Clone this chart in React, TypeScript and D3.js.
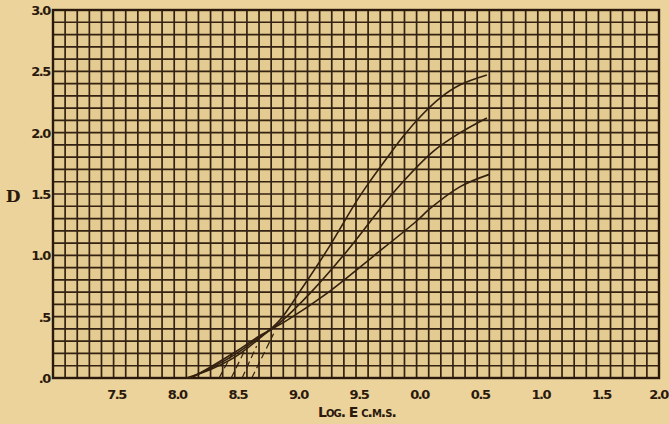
import React from "react";
import * as d3 from "d3";

// Axis ticks (log E, bar notation for negative characteristics)
const xTickValues = [7.5, 8.0, 8.5, 9.0, 9.5, 10.0, 10.5, 11.0, 11.5, 12.0];
const xTickLabels = ["7.5", "8.0", "8.5", "9.0", "9.5", "0.0", "0.5", "1.0", "1.5", "2.0"];
const yTickValues = [0, 0.5, 1.0, 1.5, 2.0, 2.5, 3.0];
const yTickLabels = [".0", ".5", "1.0", "1.5", "2.0", "2.5", "3.0"];

// Characteristic curves: [log E, D]
const curveHigh: [number, number][] = [
  [8.1, 0.0], [8.3, 0.07], [8.5, 0.17], [8.7, 0.32], [8.87, 0.47], [9.06, 0.74],
  [9.26, 1.04], [9.51, 1.45], [9.62, 1.61], [9.76, 1.8], [9.89, 1.97], [10.03, 2.13],
  [10.19, 2.28], [10.36, 2.39], [10.58, 2.47],
];
const curveMid: [number, number][] = [
  [8.12, 0.0], [8.3, 0.08], [8.5, 0.19], [8.7, 0.33], [8.87, 0.45], [9.12, 0.69],
  [9.43, 1.04], [9.7, 1.38], [9.86, 1.57], [10.14, 1.85], [10.36, 2.0], [10.58, 2.12],
];
const curveLow: [number, number][] = [
  [8.14, 0.0], [8.3, 0.09], [8.5, 0.21], [8.7, 0.34], [8.93, 0.47], [9.26, 0.69],
  [9.64, 0.99], [10.0, 1.28], [10.11, 1.38], [10.36, 1.56], [10.6, 1.66],
];
// Dashed extrapolations to the log E axis: [start log E, end log E, end D]
const extrapStart = [8.37, 8.47, 8.56, 8.64];
const extrapEndX = [8.48, 8.58, 8.68, 8.82];
const extrapEndD = [0.2, 0.22, 0.26, 0.36];

const W = 669;
const H = 424;
const ink = "#2a190c";

export default function App() {
  const x = d3.scaleLinear().domain([7, 12]).range([53, 659]);
  const y = d3.scaleLinear().domain([0, 3]).range([378, 10]);
  const gridX = d3.range(0, 51).map((i) => 7 + i * 0.1);
  const gridY = d3.range(0, 31).map((i) => i * 0.1);
  const line = d3
    .line<[number, number]>()
    .x((d) => x(d[0]))
    .y((d) => y(d[1]))
    .curve(d3.curveCatmullRom.alpha(0.5));
  const font = "'DejaVu Sans', sans-serif";
  return (
    <svg
      width={W}
      height={H}
      style={{ position: "absolute", left: 0, top: 0 }}
      xmlns="http://www.w3.org/2000/svg"
    >
      <rect x={0} y={0} width={W} height={H} fill="#ecd39b" />
      <rect x={x(7)} y={y(3)} width={x(12) - x(7)} height={y(0) - y(3)} fill="#e4cb91" />
      <g stroke={ink} strokeWidth={1.7} opacity={0.95}>
        {gridX.map((v, i) => (
          <line key={"gx" + i} x1={x(v)} x2={x(v)} y1={y(0)} y2={y(3)} />
        ))}
        {gridY.map((v, i) => (
          <line key={"gy" + i} x1={x(7)} x2={x(12)} y1={y(v)} y2={y(v)} />
        ))}
      </g>
      <rect
        x={x(7)}
        y={y(3)}
        width={x(12) - x(7)}
        height={y(0) - y(3)}
        fill="none"
        stroke={ink}
        strokeWidth={2.4}
      />
      <g fill="none" stroke="#33200f" strokeWidth={1.6}>
        <path d={line(curveHigh) || ""} />
        <path d={line(curveMid) || ""} />
        <path d={line(curveLow) || ""} />
        {extrapStart.map((s, i) => (
          <line
            key={"ex" + i}
            x1={x(s)}
            y1={y(0)}
            x2={x(extrapEndX[i])}
            y2={y(extrapEndD[i])}
            strokeDasharray="7,4"
            strokeWidth={1.2}
          />
        ))}
      </g>
      <g fontFamily={font} fontWeight="bold" fontSize={13} fill={ink} letterSpacing={-1.4}>
        {xTickValues.map((v, i) => {
          const last = i === xTickValues.length - 1;
          return (
            <text
              key={"xt" + i}
              x={last ? 668 : x(v) + 3}
              y={399}
              textAnchor={last ? "end" : "middle"}
            >
              {xTickLabels[i]}
            </text>
          );
        })}
        {yTickValues.map((v, i) => (
          <text key={"yt" + i} x={50} y={y(v) + 5} textAnchor="end">
            {yTickLabels[i]}
          </text>
        ))}
      </g>
      <text x={13} y={202} textAnchor="middle" fontFamily="'DejaVu Serif', serif" fontWeight="bold" fontSize={17} fill={ink}>
        D
      </text>
      <text
        x={318}
        y={417}
        fontFamily={font}
        fontWeight="bold"
        fontSize={14}
        fill={ink}
        letterSpacing={-1}
        style={{ fontVariant: "small-caps" }}
      >
        Log. E c.m.s.
      </text>
    </svg>
  );
}
